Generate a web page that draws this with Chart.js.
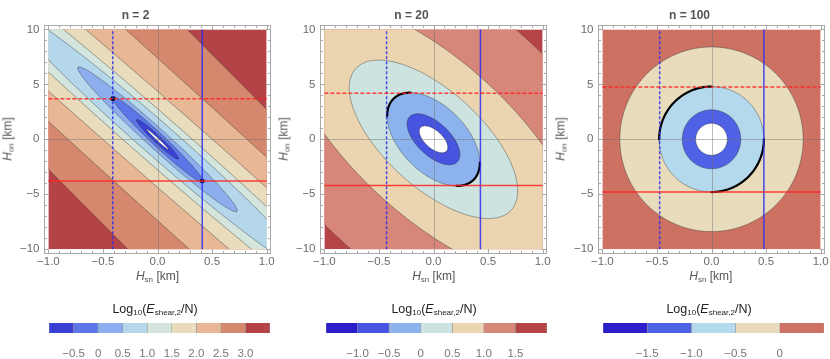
<!DOCTYPE html>
<html>
<head>
<meta charset="utf-8">
<script src="https://cdn.jsdelivr.net/npm/chart.js@4.4.1/dist/chart.umd.min.js"></script>
<style>
  body { margin: 0; background: #fff; overflow: hidden; }
  #wrap { position: relative; width: 830px; height: 359px; overflow: hidden; font-family: "Liberation Sans", Arial, sans-serif; }
  canvas { position: absolute; }
  .lbl { position: absolute; transform: translate(-50%, -50%); white-space: nowrap; font-size: 12px; color: #555; }
  .lbl sub { font-size: 8px; vertical-align: -2px; }
  .rot { transform: translate(-50%, -50%) rotate(-90deg); }
  .cbt { color: #222; font-size: 12.5px; }
</style>
</head>
<body>
<div id="wrap">
  <canvas id="p1" width="277" height="290" style="left:0px;top:0"></canvas>
  <canvas id="p2" width="277" height="290" style="left:276px;top:0"></canvas>
  <canvas id="p3" width="277" height="290" style="left:553.5px;top:0"></canvas>
  <canvas id="c1" width="251" height="41" style="left:34.3px;top:318px"></canvas>
  <canvas id="c2" width="251" height="41" style="left:311px;top:318px"></canvas>
  <canvas id="c3" width="251" height="41" style="left:588.3px;top:318px"></canvas>
</div>
<script>
// Eixos (km)
const xTicks = [-1, -0.5, 0, 0.5, 1];
const yTicks = [-10, -5, 0, 5, 10];

// n = 2 : elipses de contorno (u = Hsn, v = Hon/10), do interior pra fora
const n2Major = [0.14, 0.26, 0.57, 0.98, 1.8, 3.0, 5.5, 10, 20];
const n2Minor = [0.01, 0.032, 0.058, 0.09, 0.15, 0.21, 0.33, 0.55, 0.9];
const n2Angle = [-43, -43, -43, -42, -41, -41, -41, -42, -45];
const n2Fills = ['#ffffff', '#3a3fd6', '#5b76e6', '#8caeee', '#b5d7ec', '#d3e5dd', '#e8dcbc', '#e8b896', '#d6886f'];
const n2Outer = '#b44348';
const n2LineX = [-0.41, 0.41];   // tracejada, cheia
const n2LineY = [3.7, -3.8];     // tracejada, cheia
const n2Dots = [[-0.41, 3.7], [0.41, -3.8]];

// n = 20
const n20Major = [0.16, 0.30, 0.52, 0.96, 1.7, 3.0];
const n20Minor = [0.08, 0.15, 0.30, 0.44, 0.71, 1.25];
const n20Angle = [-42, -43, -45, -42, -42, -42];
const n20Fills = ['#ffffff', '#4654e0', '#8db3ef', '#cde3df', '#ebd5b1', '#d7877a'];
const n20Outer = '#b64347';
const n20LineX = [-0.43, 0.43];
const n20LineY = [4.2, -4.2];
const n20Arc = 2;

// n = 100
const n100Radius = [0.145, 0.268, 0.48, 0.84];
const n100Fills = ['#ffffff', '#4f62e6', '#b4d8ec', '#e8dcbc'];
const n100Outer = '#cd7163';
const n100LineX = [-0.475, 0.48];
const n100LineY = [4.75, -4.8];
const n100Arc = 2;

// Barras de cor
const cb1Edges = [-1.0, -0.5, 0, 0.5, 1.0, 1.5, 2.0, 2.5, 3.0, 3.5];
const cb1Colors = ['#3a3fd6', '#5b76e6', '#8caeee', '#b5d7ec', '#d3e5dd', '#e8dcbc', '#e8b896', '#d6886f', '#b44348'];
const cb1Ticks = [-0.5, 0, 0.5, 1.0, 1.5, 2.0, 2.5, 3.0];
const cb2Edges = [-1.5, -1.0, -0.5, 0, 0.5, 1.0, 1.5, 2.0];
const cb2Colors = ['#2b1fcc', '#4654e0', '#8db3ef', '#cde3df', '#ebd5b1', '#d7877a', '#b64347'];
const cb2Ticks = [-1.0, -0.5, 0, 0.5, 1.0, 1.5];
const cb3Edges = [-2.0, -1.5, -1.0, -0.5, 0, 0.5];
const cb3Colors = ['#2b1fcc', '#4f62e6', '#b4d8ec', '#e8dcbc', '#cd7163'];
const cb3Ticks = [-1.5, -1.0, -0.5, 0];

const FONT = '"Liberation Sans", Arial, sans-serif';
const fmt = (v, zeroPlain) => {
  if (zeroPlain && v === 0) return '0';
  return v.toFixed(1).replace('-', '\u2212');
};

function ellipsePoint(xs, ys, a, b, deg, t) {
  const th = deg * Math.PI / 180, c = Math.cos(th), s = Math.sin(th);
  const u = a * Math.cos(t) * c - b * Math.sin(t) * s;
  const v = a * Math.cos(t) * s + b * Math.sin(t) * c;
  return [xs.getPixelForValue(u), ys.getPixelForValue(v * 10)];
}

function tracePath(ctx, xs, ys, a, b, deg, t0, t1, n) {
  ctx.beginPath();
  for (let k = 0; k <= n; k++) {
    const p = ellipsePoint(xs, ys, a, b, deg, t0 + (t1 - t0) * k / n);
    k ? ctx.lineTo(p[0], p[1]) : ctx.moveTo(p[0], p[1]);
  }
}

// Plugin: regiões de contorno preenchidas + arcos pretos
function contourPlugin(panel) {
  return {
    id: 'contours',
    beforeDatasetsDraw(chart) {
      const ctx = chart.ctx, xs = chart.scales.x, ys = chart.scales.y;
      const L = xs.getPixelForValue(-1), R = xs.getPixelForValue(1);
      const T = ys.getPixelForValue(10), B = ys.getPixelForValue(-10);
      ctx.save();
      ctx.beginPath(); ctx.rect(L, T, R - L, B - T); ctx.clip();
      ctx.fillStyle = panel.outer;
      ctx.fillRect(L, T, R - L, B - T);
      for (let i = panel.major.length - 1; i >= 0; i--) {
        tracePath(ctx, xs, ys, panel.major[i], panel.minor[i], panel.angle[i], 0, 2 * Math.PI, 900);
        ctx.closePath();
        ctx.fillStyle = panel.fills[i];
        ctx.fill();
        ctx.strokeStyle = 'rgba(50,50,50,0.55)';
        ctx.lineWidth = 0.8;
        ctx.stroke();
      }
      // linhas do zero
      ctx.strokeStyle = 'rgba(110,110,110,0.45)';
      ctx.lineWidth = 1;
      const x0 = Math.round(xs.getPixelForValue(0)) + 0.5, y0 = Math.round(ys.getPixelForValue(0)) + 0.5;
      ctx.beginPath(); ctx.moveTo(x0, T); ctx.lineTo(x0, B); ctx.moveTo(L, y0); ctx.lineTo(R, y0); ctx.stroke();
      // arco preto: do ponto mais alto ao mais à esquerda (e o simétrico)
      if (panel.arc !== undefined) {
        const i = panel.arc, a = panel.major[i], b = panel.minor[i];
        const th = panel.angle[i] * Math.PI / 180, c = Math.cos(th), s = Math.sin(th);
        const tTop = Math.atan2(b * c, a * s);
        let tLeft = Math.atan2(-b * s, a * c) + Math.PI;
        if (tLeft < tTop) tLeft += 2 * Math.PI;
        ctx.strokeStyle = '#000';
        ctx.lineWidth = 2.2;
        ctx.lineCap = 'round';
        for (const off of [0, Math.PI]) {
          tracePath(ctx, xs, ys, a, b, panel.angle[i], tTop + off, tLeft + off, 120);
          ctx.stroke();
        }
      }
      ctx.restore();
    }
  };
}

// Plugin: moldura com marcas pra dentro
const framePlugin = {
  id: 'frame',
  afterDraw(chart) {
    const ctx = chart.ctx, a = chart.chartArea, xs = chart.scales.x, ys = chart.scales.y;
    ctx.save();
    ctx.strokeStyle = '#a9a9a9';
    ctx.lineWidth = 1;
    const l = Math.round(a.left) + 0.5, r = Math.round(a.right) - 0.5, t = Math.round(a.top) + 0.5, b = Math.round(a.bottom) - 0.5;
    ctx.strokeRect(l, t, r - l, b - t);
    ctx.beginPath();
    for (let k = -10; k <= 10; k++) {
      const len = k % 5 === 0 ? 4.5 : 2.5;
      const px = Math.round(xs.getPixelForValue(k / 10)) + 0.5;
      ctx.moveTo(px, b); ctx.lineTo(px, b - len);
      ctx.moveTo(px, t); ctx.lineTo(px, t + len);
      const py = Math.round(ys.getPixelForValue(k)) + 0.5;
      ctx.moveTo(l, py); ctx.lineTo(l + len, py);
      ctx.moveTo(r, py); ctx.lineTo(r - len, py);
    }
    ctx.stroke();
    ctx.restore();
  }
};

function vLine(x, dashed) {
  return { data: [{ x: x, y: -10 }, { x: x, y: 10 }], showLine: true, pointRadius: 0,
    borderColor: 'rgba(45,45,240,0.85)', borderWidth: 1.5, borderDash: dashed ? [3, 2] : [] };
}
function hLine(y, dashed) {
  return { data: [{ x: -1, y: y }, { x: 1, y: y }], showLine: true, pointRadius: 0,
    borderColor: 'rgba(255,35,35,0.85)', borderWidth: 1.5, borderDash: dashed ? [4, 2] : [] };
}

function criarPainel(id, titulo, panel) {
  const datasets = [
    hLine(panel.lineY[0], true), hLine(panel.lineY[1], false),
    vLine(panel.lineX[0], true), vLine(panel.lineX[1], false)
  ];
  if (panel.dots) {
    datasets.push({ data: panel.dots.map(d => ({ x: d[0], y: d[1] })), pointRadius: 2.4,
      pointBackgroundColor: '#000', pointBorderColor: '#000', pointBorderWidth: 0 });
  }
  new Chart(document.getElementById(id), {
    type: 'scatter',
    data: { datasets },
    options: {
      responsive: false,
      animation: false,
      layout: { padding: { left: 0, right: 6, top: 0, bottom: 0 } },
      plugins: {
        legend: { display: false },
        tooltip: { enabled: false },
        title: { display: true, text: titulo, color: '#555', font: { family: FONT, size: 12, weight: 'bold' },
          padding: { top: 8, bottom: 2.6 } }
      },
      scales: {
        x: {
          type: 'linear', min: -1.04, max: 1.04,
          grid: { display: false, drawTicks: false }, border: { display: false },
          afterBuildTicks: s => { s.ticks = xTicks.map(v => ({ value: v })); },
          afterFit: s => { s.height = 36.4; },
          ticks: { color: '#6b6b6b', font: { family: FONT, size: 11.5 }, padding: 1.5, maxRotation: 0,
            autoSkip: false, callback: v => fmt(v, false) }
        },
        y: {
          type: 'linear', min: -10.4, max: 10.4,
          grid: { display: false, drawTicks: false }, border: { display: false },
          afterBuildTicks: s => { s.ticks = yTicks.map(v => ({ value: v })); },
          afterFit: s => { s.width = 44; },
          ticks: { color: '#6b6b6b', font: { family: FONT, size: 11.5 }, padding: 4.5,
            callback: v => String(v).replace('-', '\u2212') }
        }
      }
    },
    plugins: [contourPlugin(panel), framePlugin]
  });
}

function criarBarra(id, edges, colors, ticks) {
  const datasets = colors.map((c, i) => ({
    data: [[edges[i], edges[i + 1]]],
    backgroundColor: c,
    borderColor: 'rgba(70,70,70,0.45)',
    borderWidth: { left: 0.6, right: 0.6, top: 0, bottom: 0 },
    borderSkipped: false,
    barPercentage: 1, categoryPercentage: 1, grouped: false
  }));
  new Chart(document.getElementById(id), {
    type: 'bar',
    data: { labels: [''], datasets },
    options: {
      indexAxis: 'y',
      responsive: false,
      animation: false,
      layout: { padding: { left: 15, right: 15, top: 5, bottom: 0 } },
      plugins: { legend: { display: false }, tooltip: { enabled: false } },
      scales: {
        x: {
          type: 'linear', min: edges[0], max: edges[edges.length - 1],
          grid: { display: false, drawTicks: false }, border: { display: false },
          afterBuildTicks: s => { s.ticks = ticks.map(v => ({ value: v })); },
          afterFit: s => { s.height = 26; },
          ticks: { color: '#777', font: { family: FONT, size: 11.5 }, padding: 14, maxRotation: 0,
            autoSkip: false, callback: v => fmt(v, true) }
        },
        y: { display: false }
      }
    }
  });
}

criarPainel('p1', 'n = 2', { major: n2Major, minor: n2Minor, angle: n2Angle, fills: n2Fills, outer: n2Outer,
  lineX: n2LineX, lineY: n2LineY, dots: n2Dots });
criarPainel('p2', 'n = 20', { major: n20Major, minor: n20Minor, angle: n20Angle, fills: n20Fills, outer: n20Outer,
  lineX: n20LineX, lineY: n20LineY, arc: n20Arc });
criarPainel('p3', 'n = 100', { major: n100Radius, minor: n100Radius, angle: n100Radius.map(() => 0), fills: n100Fills,
  outer: n100Outer, lineX: n100LineX, lineY: n100LineY, arc: n100Arc });

criarBarra('c1', cb1Edges, cb1Colors, cb1Ticks);
criarBarra('c2', cb2Edges, cb2Colors, cb2Ticks);
criarBarra('c3', cb3Edges, cb3Colors, cb3Ticks);

// Rótulos com subscrito (HTML)
const wrap = document.getElementById('wrap');
const centros = [157.5, 433.7, 710.8];
const esquerdas = [7.5, 284, 561];
const barras = [155, 434, 709];
function addLbl(html, x, y, cls) {
  const d = document.createElement('div');
  d.className = 'lbl ' + (cls || '');
  d.style.left = x + 'px'; d.style.top = y + 'px';
  d.innerHTML = html;
  wrap.appendChild(d);
}
for (let i = 0; i < 3; i++) {
  addLbl('<i>H</i><sub>sn</sub> [km]', centros[i], 276);
  addLbl('<i>H</i><sub>on</sub> [km]', esquerdas[i], 139, 'rot');
  addLbl('Log<sub>10</sub>(<i>E</i><sub>shear,2</sub>/N)', barras[i], 309, 'cbt');
}
</script>
</body>
</html>
